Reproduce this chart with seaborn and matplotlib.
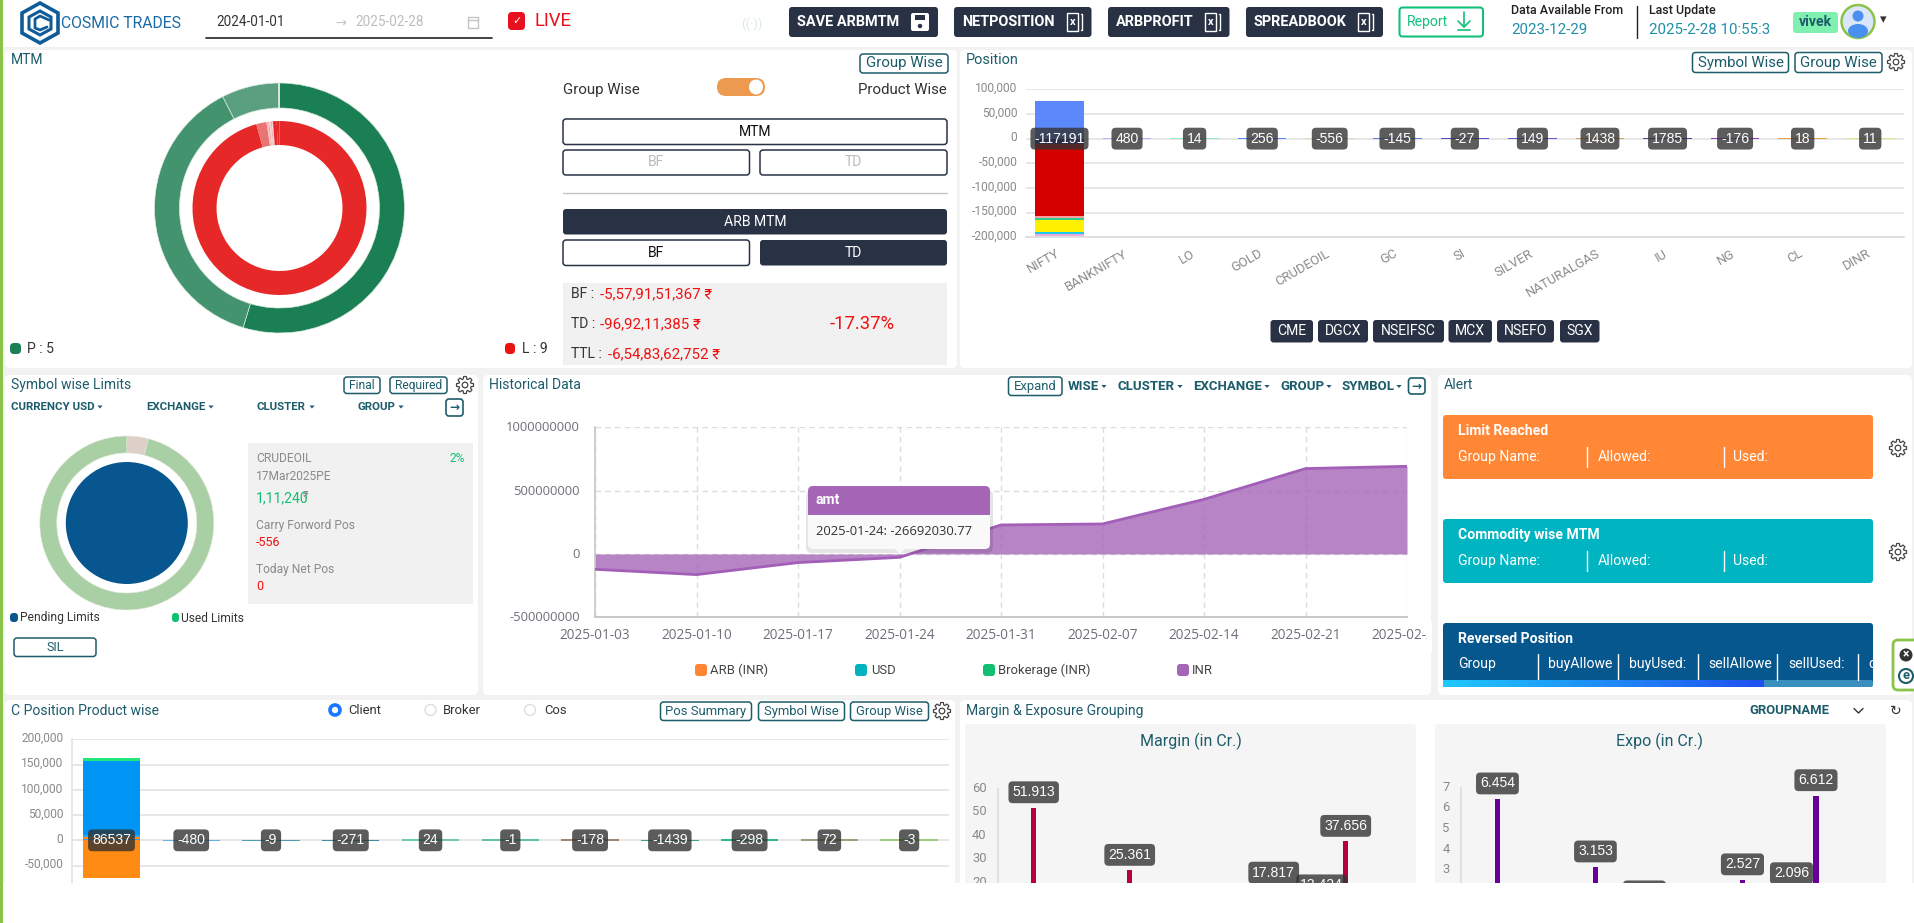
import numpy as np
import matplotlib
matplotlib.use('Agg')
import matplotlib.pyplot as plt
from matplotlib.patches import FancyBboxPatch, Rectangle, Circle, Ellipse, Polygon
from matplotlib.ticker import FuncFormatter
from matplotlib.transforms import ScaledTranslation
import seaborn as sns

## Chart data
mtm_profit = [54.7, 37.8, 7.4, 0.05, 0.05]
mtm_profit_colors = ['#1a7f52', '#43936f', '#5a9f7f', '#8abfa5', '#a0cdb8']
mtm_loss = [95.7, 1.9, 0.3, 0.2, 0.3, 0.2, 0.2, 0.7, 0.5]
mtm_loss_colors = ['#e62828', '#ea7474', '#f4c0c0', '#f0a0a0', '#f6d0d0', '#f0a8a8', '#f6d0d0', '#e62828', '#e62828']

position_cats = ['NIFTY', 'BANKNIFTY', 'LO', 'GOLD', 'CRUDEOIL', 'GC', 'SI', 'SILVER',
                 'NATURALGAS', 'IU', 'NG', 'CL', 'DINR']
position_labels = ['-117191', '480', '14', '256', '-556', '-145', '-27', '149', '1438', '1785', '-176', '18', '11']
position_small = [0, 2600, 2200, 2600, 1800, 2600, 2600, 2600, 2600, 3000, 2600, 2600, 2200]
position_small_colors = ['#ffffff', '#bcb4f0', '#90eec0', '#5b88fb', '#dcdcb8', '#5b7ff0', '#5050d0', '#6060d8',
                         '#d9a050', '#5a3fa0', '#9040c0', '#e8a040', '#d0ee90']
nifty_parts = [77000, -10000, -147000, -3000, -5000, -25000, -4000, -3000]
nifty_colors = ['#5b88fb', '#1a1a8c', '#d40000', '#f4a0a0', '#2ecc8e', '#fff000', '#19c8f0', '#f0a8d8']

limit_ring = [4, 96]
limit_ring_colors = ['#dcd0c8', '#a9d0a4']
limit_disc = [100]

hist_dates = ['2025-01-03', '2025-01-10', '2025-01-17', '2025-01-24', '2025-01-31',
              '2025-02-07', '2025-02-14', '2025-02-21', '2025-02-28']
hist_amt = [-121000000, -163000000, -68000000, -26692030.77, 229000000,
            237000000, 431000000, 674000000, 692000000]

cpos_cats = ['NIFTY', 'BANKNIFTY', 'LO', 'GOLD', 'CRUDEOIL', 'GC', 'SI', 'SILVER', 'NATURALGAS', 'IU', 'NG']
cpos_labels = ['86537', '-480', '-9', '-271', '24', '-1', '-178', '-1439', '-298', '72', '-3']
cpos_small = [0, 2000, 2000, 2000, 3000, 3000, 3000, 2000, 3000, 3000, 3000]
cpos_small_colors = ['#ffffff', '#64b0e0', '#4f9eb0', '#3d8fa0', '#70c8b0', '#60c0a8', '#a08870',
                     '#40a090', '#30b890', '#a0a080', '#a0cc80']
nifty_client_parts = [3000, 4000, 4000, 146000, 6000, -75000]
nifty_client_colors = ['#2e9ee8', '#ff8a14', '#2aa8f0', '#0095f5', '#20e878', '#ff8a14']

margin_ids = [str(i) for i in range(16)]
margin_vals = [0, 51.913, 0, 0, 0, 25.361, 0, 0, 0, 0, 0, 17.817, 0, 12.424, 37.656, 0]
expo_vals = [0, 6.454, 0, 0, 0, 3.153, 0, 1.215, 0, 0, 0, 2.527, 0, 2.096, 6.612, 0]

INK = '#1d5c6b'
DARK = '#283244'
GREY = '#7d7d7d'
LABEL_BOX = dict(boxstyle='round,pad=0.28,rounding_size=0.3', fc=(0.2, 0.2, 0.2, 0.8), ec='none')

sns.set_theme(style='white')
plt.rcParams['font.family'] = ['Roboto', 'DejaVu Sans']
plt.rcParams['axes.unicode_minus'] = False
plt.rcParams['patch.force_edgecolor'] = False

W, H = 1914, 923
fig = plt.figure(figsize=(W / 100, H / 100), dpi=100, facecolor='white')


def px(size):
    return size * 0.72


def box_axes(x0, y0, x1, y1, zorder=2):
    ax = fig.add_axes([x0 / W, 1 - y1 / H, (x1 - x0) / W, (y1 - y0) / H], zorder=zorder)
    ax.patch.set_alpha(0)
    return ax


def layer(zorder):
    ax = box_axes(0, 0, W, H, zorder)
    ax.set_xlim(0, W)
    ax.set_ylim(H, 0)
    ax.axis('off')
    return ax


back = layer(0)
front = layer(5)


def rbox(ax, x0, y0, x1, y1, fc='white', ec='none', lw=1, r=3, **kw):
    p = FancyBboxPatch((x0, y0), x1 - x0, y1 - y0, boxstyle='round,pad=0,rounding_size=%s' % r,
                       fc=fc, ec=ec, lw=lw, **kw)
    ax.add_patch(p)
    return p


def txt(x, y, s, size=14, color='#333333', ha='left', weight='normal', ax=None, **kw):
    (ax or front).text(x, y, s, fontsize=px(size), color=color, ha=ha, va='center', weight=weight, **kw)


def outline_btn(x0, y0, x1, y1, s, size=15, color=INK, tc=None):
    rbox(front, x0, y0, x1, y1, fc='white', ec=color, lw=1.1)
    txt((x0 + x1) / 2, (y0 + y1) / 2, s, size=size, color=tc or color, ha='center')


def dark_btn(x0, y0, x1, y1, s, size=14, ha='center', weight='normal', tx=None):
    rbox(front, x0, y0, x1, y1, fc=DARK)
    txt(tx if tx else (x0 + x1) / 2, (y0 + y1) / 2, s, size=size, color='white', ha=ha, weight=weight)


def gear(x, y):
    pts = []
    for k in range(8):
        a = k * np.pi / 4
        for da, r in [(-0.30, 6.2), (-0.16, 8.6), (0.16, 8.6), (0.30, 6.2)]:
            pts.append((x + r * np.sin(a + da), y + r * np.cos(a + da)))
    front.add_patch(Polygon(pts, fc='none', ec='#444444', lw=0.9))
    front.add_patch(Circle((x, y), 2.8, fc='none', ec='#444444', lw=0.9))


def caret_menu(x, y, s, caret_x, size=11.5):
    txt(x, y, s, size=size, color=INK, weight='bold')
    front.add_patch(Polygon([(caret_x - 2.6, y - 1), (caret_x + 2.6, y - 1), (caret_x, y + 2)], fc=INK))


def exit_icon(x0, y0, x1, y1):
    rbox(front, x0, y0, x1, y1, fc='white', ec=INK, lw=1.2)
    txt((x0 + x1) / 2, (y0 + y1) / 2, '\u2192', size=12, color=INK, ha='center', weight='bold', family='DejaVu Sans')


def excel_icon(x, y):
    front.add_patch(Rectangle((x - 6, y - 9), 11, 18, fc='none', ec='white', lw=1))
    front.plot([x + 8, x + 9, x + 9, x + 8], [y - 8, y - 8, y + 8, y + 8], color='white', lw=1)
    txt(x - 0.5, y, 'x', size=11, color='white', ha='center', weight='bold')


def lift_ylabels(ax, dy):
    for lab in ax.get_yticklabels():
        lab.set_transform(lab.get_transform() + ScaledTranslation(0, dy / 100, fig.dpi_scale_trans))


def style_bar_axis(ax, ymin, ymax, yticks):
    ax.set_ylim(ymin, ymax)
    ax.set_yticks(yticks)
    ax.yaxis.set_major_formatter(FuncFormatter(lambda v, _: format(int(v), ',')))
    ax.tick_params(axis='y', length=0, labelsize=px(12), labelcolor='#8a8a8a', pad=6)
    ax.set_axisbelow(True)
    ax.grid(axis='y', color='#e3e3e3', lw=1.2)
    sns.despine(ax=ax, top=True, right=True, bottom=True, left=False)
    ax.spines['left'].set_color('#e4e4e4')
    ax.set_xlabel('')
    ax.set_ylabel('')


def stacked_first(ax, cats, parts, colors):
    up, down = 0, 0
    for v, c in zip(parts, colors):
        base = up if v >= 0 else down
        sns.barplot(x=[cats[0]], y=[v], order=cats, bottom=base, color=c, saturation=1,
                    width=0.72, errorbar=None, linewidth=0, ax=ax)
        if v >= 0:
            up += v
        else:
            down += v


def bar_labels(ax, labels):
    for i, s in enumerate(labels):
        ax.text(i, 0, s, fontsize=px(14), color='white', ha='center', va='center', bbox=LABEL_BOX, zorder=6,
                family='Liberation Sans')


def donut(x, y, r, vals, colors, hole, zorder=2, edge='#ffffff', lw=0.5):
    ax = box_axes(x - r, y - r, x + r, y + r, zorder)
    ax.pie(vals, colors=colors, startangle=90, counterclock=False, radius=1,
           wedgeprops=dict(width=1 - hole, edgecolor=edge, linewidth=lw))
    ax.set_xlim(-1, 1)
    ax.set_ylim(-1, 1)
    ax.set_aspect('auto')
    return ax


## Page and panels
back.add_patch(Rectangle((0, 44), W, H - 44, fc='#f2f2f2', ec='none'))
back.add_patch(Rectangle((0, 0), W, 47, fc='white', ec='none'))
for x0, y0, x1, y1 in [(5, 50, 957, 368), (960, 50, 1912, 368), (5, 375, 478, 695),
                       (483, 375, 1431, 695), (5, 700, 955, 890), (960, 700, 1912, 890)]:
    rbox(back, x0, y0, x1, y1, r=5)
rbox(back, 965, 724, 1416, 890, fc='#f5f5f5', r=4)
rbox(back, 1435, 724, 1886, 890, fc='#f5f5f5', r=4)

## Top bar
front.add_patch(Polygon([(40, 3), (58, 13), (58, 33), (40, 43), (22, 33), (22, 13)], fc='none', ec='#0f5c99', lw=2.6))
front.add_patch(Polygon([(40, 11), (51, 17), (51, 29), (40, 35), (29, 29), (29, 17)], fc='none', ec='#0f5c99', lw=2.2))
front.plot([49, 40, 35, 35, 40, 47], [20, 16, 19, 28, 30, 27], color='#0f5c99', lw=2)
txt(61, 24, 'COSMIC TRADES', size=15.8, color='#1a6aa5')
txt(216, 22, '2024-01-01', size=13.5, color='#333333')
txt(335, 23, '\u2192', size=13, color='#c4c4c4', family='DejaVu Sans')
txt(355, 22, '2025-02-28', size=13.5, color='#bdbdbd')
front.add_patch(Rectangle((468, 17), 10, 11, fc='none', ec='#c4c4c4', lw=1))
front.plot([468, 478], [20, 20], color='#c4c4c4', lw=1)
front.plot([206, 492], [37.5, 37.5], color='#222222', lw=1.2)
rbox(front, 508, 12, 525, 30, fc='#e8101c', r=4)
txt(516.5, 21, '\u2713', size=11, color='white', ha='center', family='DejaVu Sans', weight='bold')
txt(534, 21, 'LIVE', size=18.5, color='#e8101c')
txt(752, 24, '((\u00b7))', size=13, color='#d8eadf', ha='center')

dark_btn(789, 7, 938, 37, 'SAVE ARBMTM', weight='bold', ha='left', tx=797, size=14.5)
rbox(front, 911, 13, 929, 31, fc='white', r=2)
front.add_patch(Rectangle((915, 15), 10, 5, fc=DARK))
front.add_patch(Circle((920, 26), 2.2, fc=DARK))
dark_btn(954, 7, 1091.5, 37, 'NETPOSITION', weight='bold', ha='left', tx=962.5, size=14.5)
excel_icon(1073, 22)
dark_btn(1108, 7, 1229.5, 37, 'ARBPROFIT', weight='bold', ha='left', tx=1116, size=14.5)
excel_icon(1211, 22)
dark_btn(1246, 7, 1383, 37, 'SPREADBOOK', weight='bold', ha='left', tx=1253.5, size=14.5)
excel_icon(1364, 22)
rbox(front, 1399.5, 7.5, 1483, 36.5, fc='white', ec='#12c07a', lw=1.5)
txt(1407, 22, 'Report', size=14, color='#12c07a')
front.plot([1464, 1464], [12, 27], color='#12c07a', lw=1.2)
front.plot([1458, 1464, 1470], [21, 27, 21], color='#12c07a', lw=1.2)
front.plot([1458, 1470], [30, 30], color='#12c07a', lw=1.2)

txt(1511, 10.5, 'Data Available From', size=12.5, color='#222222', weight='medium')
txt(1511, 30.5, '2023-12-29', size=15, color='#1f8fa8')
front.plot([1636.5, 1636.5], [6, 38], color='#222222', lw=1)
txt(1649, 10.5, 'Last Update', size=12.5, color='#222222', weight='medium')
txt(1649, 30.5, '2025-2-28 10:55:3', size=15, color='#1f8fa8')
rbox(front, 1793, 12, 1838, 33, fc='#7ff0b0', r=3)
txt(1815.5, 22, 'vivek', size=14, color=INK, ha='center', weight='bold')
front.add_patch(Ellipse((1858, 21.5), 33, 33, fc='#dbe6fb', ec='#8bc34a', lw=1.8))
front.add_patch(Ellipse((1858, 16), 11, 11, fc='#4a90f0'))
front.add_patch(Ellipse((1858, 31), 20, 14, fc='#4a90f0'))
txt(1883, 20, '\u25be', size=13, color='#333333', ha='center', family='DejaVu Sans')

## MTM panel
txt(11, 60, 'MTM', color=INK)
outline_btn(860, 54, 948, 73, 'Group Wise')
donut(279.5, 208, 125, mtm_profit, mtm_profit_colors, 0.80, edge='#d8e8e0', lw=0.5)
donut(279.5, 208, 87, mtm_loss, mtm_loss_colors, 0.724, edge='none', lw=0)
txt(563, 90, 'Group Wise', size=15, color='#333333')
rbox(front, 717, 78, 765, 96, fc='#ec9a50', r=9)
front.add_patch(Ellipse((756, 87), 14, 15, fc='white'))
txt(947, 90, 'Product Wise', size=15, color='#333333', ha='right')
outline_btn(563, 119, 947, 144.5, 'MTM', size=14, color=DARK, tc='#111111')
outline_btn(563, 150, 749.5, 175, 'BF', size=14, color=DARK, tc='#bbbbbb')
outline_btn(760, 150, 947, 175, 'TD', size=14, color=DARK, tc='#bbbbbb')
front.plot([563, 947], [192.5, 192.5], color='#c4c4c4', lw=1)
dark_btn(563, 209, 947, 234.5, 'ARB MTM')
outline_btn(563, 240, 749.5, 265.5, 'BF', size=14, color=DARK, tc='#111111')
dark_btn(760, 240, 947, 265.5, 'TD')
front.add_patch(Rectangle((563, 283), 384, 82, fc='#f1f1f1'))
txt(571, 294, 'BF :', color='#333333')
txt(600, 294, '-5,57,91,51,367 \u20b9', size=15, color='#f01010')
txt(571, 324, 'TD :', color='#333333')
txt(600.5, 324, '-96,92,11,385 \u20b9', size=15, color='#f01010')
txt(571, 354, 'TTL :', color='#333333')
txt(608.5, 354, '-6,54,83,62,752 \u20b9', size=15, color='#f01010')
txt(830, 324, '-17.37%', size=18.5, color='#f01010')
rbox(front, 10, 343, 21, 354, fc='#1a7f52', r=4)
txt(27, 349, 'P : 5', color='#333333')
rbox(front, 505, 343, 515, 354, fc='#ee1111', r=4)
txt(522, 349, 'L : 9', color='#333333')

## Position panel
txt(965.5, 60, 'Position', size=14.5, color=INK)
outline_btn(1692.5, 52.5, 1788.5, 72.5, 'Symbol Wise')
outline_btn(1795, 52.5, 1882, 72.5, 'Group Wise')
gear(1896, 62)

ax_pos = box_axes(1025.7, 89.3, 1904, 237.3)
stacked_first(ax_pos, position_cats, nifty_parts, nifty_colors)
sns.barplot(x=position_cats, y=position_small, hue=position_cats, order=position_cats,
            palette=position_small_colors, saturation=1, width=0.72, errorbar=None,
            linewidth=0, legend=False, bottom=-800, ax=ax_pos)
style_bar_axis(ax_pos, -200000, 100000, [-200000, -150000, -100000, -50000, 0, 50000, 100000])
ax_pos.spines['bottom'].set_visible(True)
ax_pos.spines['bottom'].set_color('#dcdcdc')
ax_pos.spines['left'].set_visible(False)
ax_pos.set_xticks(range(len(position_cats)))
ax_pos.set_xticklabels(position_cats, rotation=30, ha='right', rotation_mode='anchor',
                       fontsize=px(13), color='#8a8a8a')
ax_pos.tick_params(axis='x', length=0, pad=7)
for lab in ax_pos.get_xticklabels():
    lab.set_transform(lab.get_transform() + ScaledTranslation(-4 / 100, 0, fig.dpi_scale_trans))
lift_ylabels(ax_pos, 2.5)
bar_labels(ax_pos, position_labels)

for x0, x1, s in [(1270.5, 1313, 'CME'), (1318, 1368, 'DGCX'), (1373, 1444, 'NSEIFSC'),
                  (1448.5, 1492, 'MCX'), (1497, 1554, 'NSEFO'), (1560, 1599.5, 'SGX')]:
    dark_btn(x0, 320, x1, 342.5, s)

## Symbol wise limits
txt(11, 385, 'Symbol wise Limits', color=INK)
outline_btn(344, 377, 380, 393.5, 'Final', size=12)
outline_btn(390, 377, 447, 393.5, 'Required', size=12)
gear(465, 385)
for x, s, cx in [(11, 'CURRENCY USD', 100), (146, 'EXCHANGE', 211), (256.5, 'CLUSTER', 312), (357, 'GROUP', 401)]:
    caret_menu(x, 406.5, s, cx)
exit_icon(446, 399, 463, 416)
donut(126.8, 523, 87, limit_ring, limit_ring_colors, 0.805, edge='#e8e8e0', lw=0.4)
donut(126.8, 523, 61, limit_disc, ['#08568f'], 0.0, edge='none', lw=0)
front.add_patch(Rectangle((248, 443), 225, 161, fc='#f1f1f1'))
txt(256, 458, 'CRUDEOIL', size=12, color='#8a8a8a')
txt(465, 458, '2%', size=12, color='#10c070', ha='right')
txt(256, 476, '17Mar2025PE', size=12, color='#8a8a8a')
txt(256, 498, '1,11,240', size=14, color='#10c070')
txt(303, 496, '\u20b9', size=11, color='#8a8a8a')
txt(256, 525, 'Carry Forword Pos', size=12, color='#8a8a8a')
txt(256, 542, '-556', size=12.5, color='#f01010')
txt(256, 569, 'Today Net Pos', size=12, color='#8a8a8a')
txt(256, 586, '0', size=12.5, color='#f01010')
rbox(front, 10, 613, 18, 622, fc='#08568f', r=3.5)
txt(20, 618, 'Pending Limits', size=12, color='#333333')
rbox(front, 172, 613, 179, 622, fc='#10c070', r=3)
txt(181, 618, 'Used Limits', size=12, color='#333333')
outline_btn(14, 638, 96, 656.5, 'SIL', size=12.5)

## Historical data
txt(489, 385, 'Historical Data', color=INK)
outline_btn(1008.5, 377, 1062, 395.5, 'Expand', size=13)
for x, s, cx in [(1068, 'WISE', 1104), (1118, 'CLUSTER', 1180), (1193.5, 'EXCHANGE', 1267),
                 (1280, 'GROUP', 1329), (1342, 'SYMBOL', 1399)]:
    caret_menu(x, 386, s, cx, size=13.2)
exit_icon(1408.5, 378, 1425, 394)

ax_hist = box_axes(595, 427.3, 1407, 617.3)
idx = np.arange(len(hist_dates))
ax_hist.fill_between(idx, 0, hist_amt, color='#a566b8', alpha=0.8, lw=0, zorder=2)
sns.lineplot(x=idx, y=hist_amt, color='#a35fb8', lw=2, errorbar=None, ax=ax_hist, zorder=3)
ax_hist.set_xlim(0, len(hist_dates) - 1)
ax_hist.set_ylim(-500000000, 1000000000)
ax_hist.set_xticks(idx)
ax_hist.set_xticklabels(hist_dates, fontsize=px(13.6), color='#6e7079', family='Open Sans')
ax_hist.set_yticks([-500000000, 0, 500000000, 1000000000])
ax_hist.set_yticklabels(['-500000000', '0', '500000000', '1000000000'], fontsize=px(13), color='#6e7079',
                        family='Open Sans')
ax_hist.tick_params(axis='both', length=6, width=1, color='#c8c8c8', pad=2)
ax_hist.tick_params(axis='y', pad=5)
ax_hist.grid(True, ls=(0, (4, 3)), color='#dcdcdc', lw=1)
ax_hist.set_axisbelow(True)
for side in ['top', 'right']:
    ax_hist.spines[side].set_visible(False)
ax_hist.spines['left'].set_color('#c8c8c8')
ax_hist.spines['bottom'].set_color('#c8c8c8')
ax_hist.spines['bottom'].set_linewidth(1.4)
lift_ylabels(ax_hist, 1)

for x0, tx, c, s in [(695, 710, '#ff8533', 'ARB (INR)'), (855, 871, '#00b3bf', 'USD'),
                     (983, 998, '#10c070', 'Brokerage (INR)'), (1177, 1192, '#a566b8', 'INR')]:
    rbox(front, x0, 664, x0 + 12, 676, fc=c, r=3)
    txt(tx, 670, s, size=13, color='#444444')

rbox(front, 806, 490, 993, 553, fc=(0, 0, 0, 0.10), r=6)
rbox(front, 808, 486, 990, 549, fc='#f9f9f9', r=5)
rbox(front, 808, 486, 990, 515, fc='#a566b8', r=5)
front.add_patch(Rectangle((808, 505), 182, 10, fc='#a566b8'))
txt(816, 500.5, 'amt', size=14, color='white', weight='bold')
txt(816, 531.5, '2025-01-24: -26692030.77', size=13, color='#333333', family='Open Sans')
front.add_patch(Polygon([(895, 549), (905, 549), (900, 554)], fc='#f9f9f9'))

## Alert panel, in front so it clips the last date label
front.add_patch(Rectangle((1426.5, 622), 5, 30, fc='white'))
front.add_patch(Rectangle((1431.5, 372), 6.5, 326, fc='#f2f2f2'))
rbox(front, 1438, 375, 1912, 695, r=5)
txt(1444, 385, 'Alert', color=INK)
for y0, c, title in [(415, '#ff8735', 'Limit Reached'), (519, '#00b4c2', 'Commodity wise MTM')]:
    rbox(front, 1443, y0, 1873, y0 + 64, fc=c, r=3)
    txt(1458, y0 + 16, title, size=14, color='white', weight='bold')
    txt(1458, y0 + 42, 'Group Name:', size=14, color='white')
    txt(1597.5, y0 + 42, 'Allowed:', size=14, color='white')
    txt(1733.5, y0 + 42, 'Used:', size=14, color='white')
    front.plot([1586.5, 1586.5], [y0 + 32, y0 + 52], color='white', lw=1)
    front.plot([1723.5, 1723.5], [y0 + 32, y0 + 52], color='white', lw=1)
gear(1898, 448)
gear(1898, 552)
rbox(front, 1443, 623, 1873, 686.5, fc='#07578f', r=3)
txt(1458, 639, 'Reversed Position', size=14, color='white', weight='bold')
for x, s in [(1458, 'Group'), (1548, 'buyAllowe'), (1628.5, 'buyUsed:'), (1708, 'sellAllowe'), (1788.5, 'sellUsed:'), (1868, 'c')]:
    txt(x, 664, s, size=14, color='white')
for x in [1537.5, 1617.5, 1697.5, 1777, 1857.5]:
    front.plot([x, x], [654, 680], color='white', lw=1)
rbox(front, 1443, 680, 1873, 687, fc='#3a8fbf', r=2)
front.imshow(np.linspace(0, 1, 64).reshape(1, -1), extent=(1443, 1764, 687, 680), aspect='auto',
             cmap=matplotlib.colors.LinearSegmentedColormap.from_list('thumb', ['#1ec8ff', '#2050f0']), zorder=4)
front.set_xlim(0, W)
front.set_ylim(H, 0)
rbox(front, 1893, 640, 1925, 690, fc='white', ec='#8bc34a', lw=2, r=5)
front.add_patch(Circle((1906, 655), 6.5, fc='#333333', zorder=6))
txt(1906, 655, '\u00d7', size=12, color='white', ha='center', weight='bold', zorder=7)
front.add_patch(Circle((1906, 676), 7, fc='white', ec=INK, lw=1.5, zorder=6))
txt(1906, 675.5, 'e', size=13, color=INK, ha='center', weight='bold', zorder=7)

## C position panel
txt(11, 711, 'C Position Product wise', color=INK)
front.add_patch(Circle((335, 710), 5, fc='white', ec='#1677ff', lw=2.6))
txt(348, 710, 'Client', size=13, color='#333333')
front.add_patch(Circle((430.5, 710), 5.5, fc='white', ec='#dddddd', lw=1))
txt(443, 710, 'Broker', size=13, color='#333333')
front.add_patch(Circle((530, 710), 5.5, fc='white', ec='#dddddd', lw=1))
txt(544, 710, 'Cos', size=13, color='#333333')
outline_btn(660.5, 702, 751.5, 720.5, 'Pos Summary', size=13)
outline_btn(758.5, 702, 844.5, 720.5, 'Symbol Wise', size=13)
outline_btn(850.5, 702, 928.5, 720.5, 'Group Wise', size=13)
gear(942, 711)

ax_cpos = box_axes(71.6, 739.3, 949, 883)
stacked_first(ax_cpos, cpos_cats, nifty_client_parts, nifty_client_colors)
sns.barplot(x=cpos_cats, y=cpos_small, hue=cpos_cats, order=cpos_cats, palette=cpos_small_colors,
            saturation=1, width=0.72, errorbar=None, linewidth=0, legend=False, bottom=-800, ax=ax_cpos)
style_bar_axis(ax_cpos, -84500, 200000, [-50000, 0, 50000, 100000, 150000, 200000])
ax_cpos.set_xticks([])
lift_ylabels(ax_cpos, 2.5)
bar_labels(ax_cpos, cpos_labels)

## Margin and exposure
txt(965.5, 711, 'Margin & Exposure Grouping', color=INK)
txt(1749, 711, 'GROUPNAME', size=13, color=INK, weight='bold')
front.plot([1854, 1858.5, 1863], [708.5, 713, 708.5], color='#333333', lw=1)
txt(1896, 711, '\u21bb', size=14, color='#333333', ha='center', family='DejaVu Sans')
txt(1190.5, 741, 'Margin (in Cr.)', size=16, color=INK, ha='center')
txt(1660, 741, 'Expo (in Cr.)', size=16, color=INK, ha='center')


def lollipops(box, vals, color, ymin, ymax, yticks):
    ax = box_axes(*box)
    sns.barplot(x=margin_ids, y=vals, color=color, saturation=1, width=0.21, errorbar=None, linewidth=0, ax=ax)
    ax.set_xlim(-0.5, len(vals) - 0.5)
    ax.set_ylim(ymin, ymax)
    ax.set_yticks(yticks)
    ax.set_xticks([])
    ax.set_xlabel('')
    ax.set_ylabel('')
    ax.tick_params(axis='y', length=0, labelsize=px(13), labelcolor='#8a8a8a', pad=8)
    sns.despine(ax=ax, bottom=True)
    ax.spines['left'].set_color('#dddddd')
    lift_ylabels(ax, 2)
    offset = (ymax - ymin) / (box[3] - box[1]) * 15.5
    ## later labels go underneath, as in the original
    for i, v in enumerate(vals):
        if v > 0:
            ax.text(i, v + offset, '%.3f' % v, fontsize=px(14), color='white', ha='center', va='center',
                    bbox=LABEL_BOX, clip_on=False, zorder=20 - i, family='Liberation Sans')


lollipops((997.7, 788.7, 1381.7, 883), margin_vals, '#b8003f', 20, 60, [20, 30, 40, 50, 60])
lollipops((1460.7, 787.7, 1852.7, 883), expo_vals, '#660099', 2.374, 7, [3, 4, 5, 6, 7])

## Page cut at the bottom, left accent strip
front.add_patch(Rectangle((0, 883), W, 40, fc='white', zorder=8))
front.add_patch(Rectangle((0, 0), 3, H, fc='#8bc34a', zorder=9))

fig.savefig('out.png', dpi=100)
